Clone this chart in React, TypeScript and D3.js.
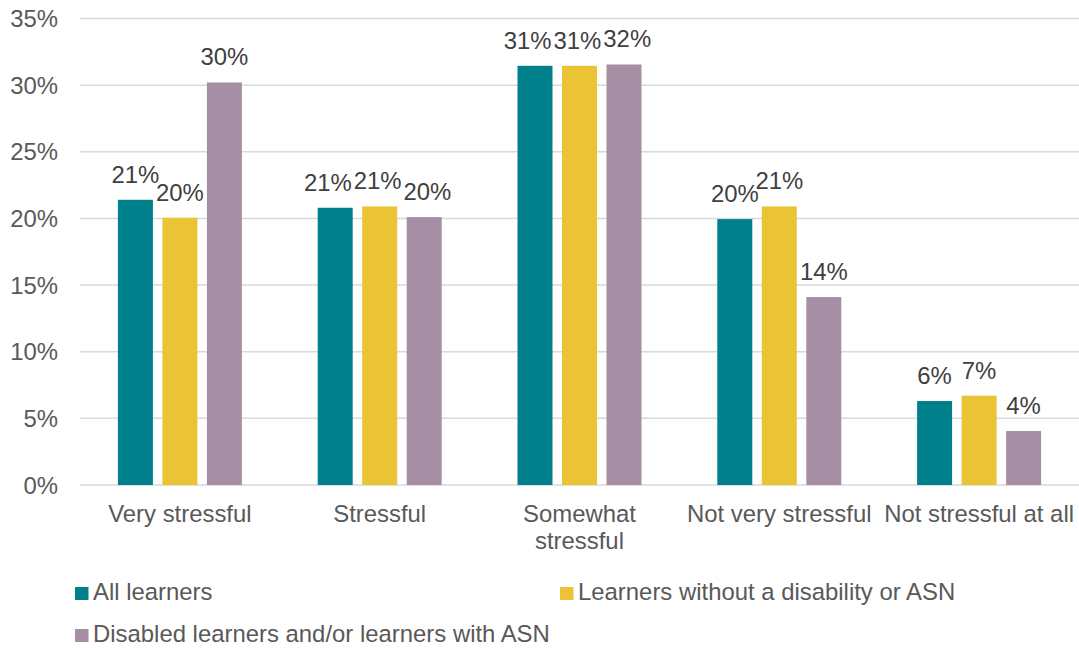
import React from "react";
import * as d3 from "d3";

const categories: string[][] = [
  ["Very stressful"],
  ["Stressful"],
  ["Somewhat", "stressful"],
  ["Not very stressful"],
  ["Not stressful at all"],
];
const seriesNames = [
  "All learners",
  "Learners without a disability or ASN",
  "Disabled learners and/or learners with ASN",
];
const allLearners = [21.4, 20.8, 31.45, 19.95, 6.3];
const withoutDisability = [20.05, 20.9, 31.45, 20.9, 6.7];
const disabledASN = [30.2, 20.1, 31.55, 14.1, 4.05];
const seriesColors = ["#00808B", "#EAC435", "#A68EA4"];
const yTicks = [0, 5, 10, 15, 20, 25, 30, 35];

const W = 1079;
const H = 648;
const FONT = "'Liberation Sans', Arial, sans-serif";
const FS = 23.9;

const labelWidth = (s: string) =>
  (s.replace("%", "").length * 0.556 + 0.889) * FS;

export default function App() {
  const series = [allLearners, withoutDisability, disabledASN];
  const x = d3
    .scaleBand<number>()
    .domain(d3.range(categories.length))
    .range([80, 1079])
    .padding(0);
  const inner = d3
    .scaleBand<number>()
    .domain([0, 1, 2])
    .range([-62, 62])
    .paddingInner(0.2135)
    .paddingOuter(0);
  const y = d3.scaleLinear().domain([0, 35]).range([485, 18.5]);

  // label positions with simple collision spreading (like Excel)
  const labelPos = categories.map((_, ci) => {
    const cx = (x(ci) as number) + x.bandwidth() / 2;
    const pts = series.map((s, si) => {
      const text = `${Math.round(s[ci])}%`;
      return {
        text,
        w: labelWidth(text),
        x: cx + (inner(si) as number) + inner.bandwidth() / 2,
        y: y(s[ci]) - 17,
      };
    });
    for (let iter = 0; iter < 20; iter++) {
      for (let i = 0; i < pts.length - 1; i++) {
        const a = pts[i];
        const b = pts[i + 1];
        if (Math.abs(a.y - b.y) < 11.5) {
          const minGap = (a.w + b.w) / 2 + 2;
          const d = b.x - a.x;
          if (d < minGap) {
            const push = (minGap - d) / 2;
            a.x -= push * 1.3;
            b.x += push * 0.7;
          }
        }
      }
    }
    return pts;
  });

  return (
    <svg
      width={W}
      height={H}
      style={{ position: "absolute", left: 0, top: 0, background: "#fff" }}
      fontFamily={FONT}
    >
      {yTicks.map((t) => (
        <g key={t}>
          <line
            x1={80}
            x2={1079}
            y1={y(t)}
            y2={y(t)}
            stroke="#D9D9D9"
            strokeWidth={1.5}
          />
          <text
            x={58}
            y={y(t) + 8.5}
            textAnchor="end"
            fontSize={FS}
            fill="#595959"
          >
            {t}%
          </text>
        </g>
      ))}
      {categories.map((c, ci) => {
        const cx = (x(ci) as number) + x.bandwidth() / 2;
        return (
          <g key={ci}>
            {series.map((s, si) => {
              const bx = cx + (inner(si) as number);
              const v = s[ci];
              const lp = labelPos[ci][si];
              return (
                <g key={si}>
                  <rect
                    x={bx}
                    y={y(v)}
                    width={inner.bandwidth()}
                    height={y(0) - y(v)}
                    fill={seriesColors[si]}
                  />
                  <text
                    x={lp.x}
                    y={lp.y}
                    textAnchor="middle"
                    fontSize={FS}
                    fill="#404040"
                  >
                    {lp.text}
                  </text>
                </g>
              );
            })}
            {c.map((line, li) => (
              <text
                key={li}
                x={cx}
                y={522 + li * 27}
                textAnchor="middle"
                fontSize={FS}
                fill="#595959"
              >
                {line}
              </text>
            ))}
          </g>
        );
      })}
      {seriesNames.map((name, i) => {
        const lx = i === 1 ? 560 : 75;
        const ly = i === 2 ? 642 : 600;
        return (
          <g key={name}>
            <rect x={lx} y={ly - 13} width={13.5} height={13} fill={seriesColors[i]} />
            <text x={lx + 18} y={ly} fontSize={FS} fill="#595959">
              {name}
            </text>
          </g>
        );
      })}
    </svg>
  );
}
